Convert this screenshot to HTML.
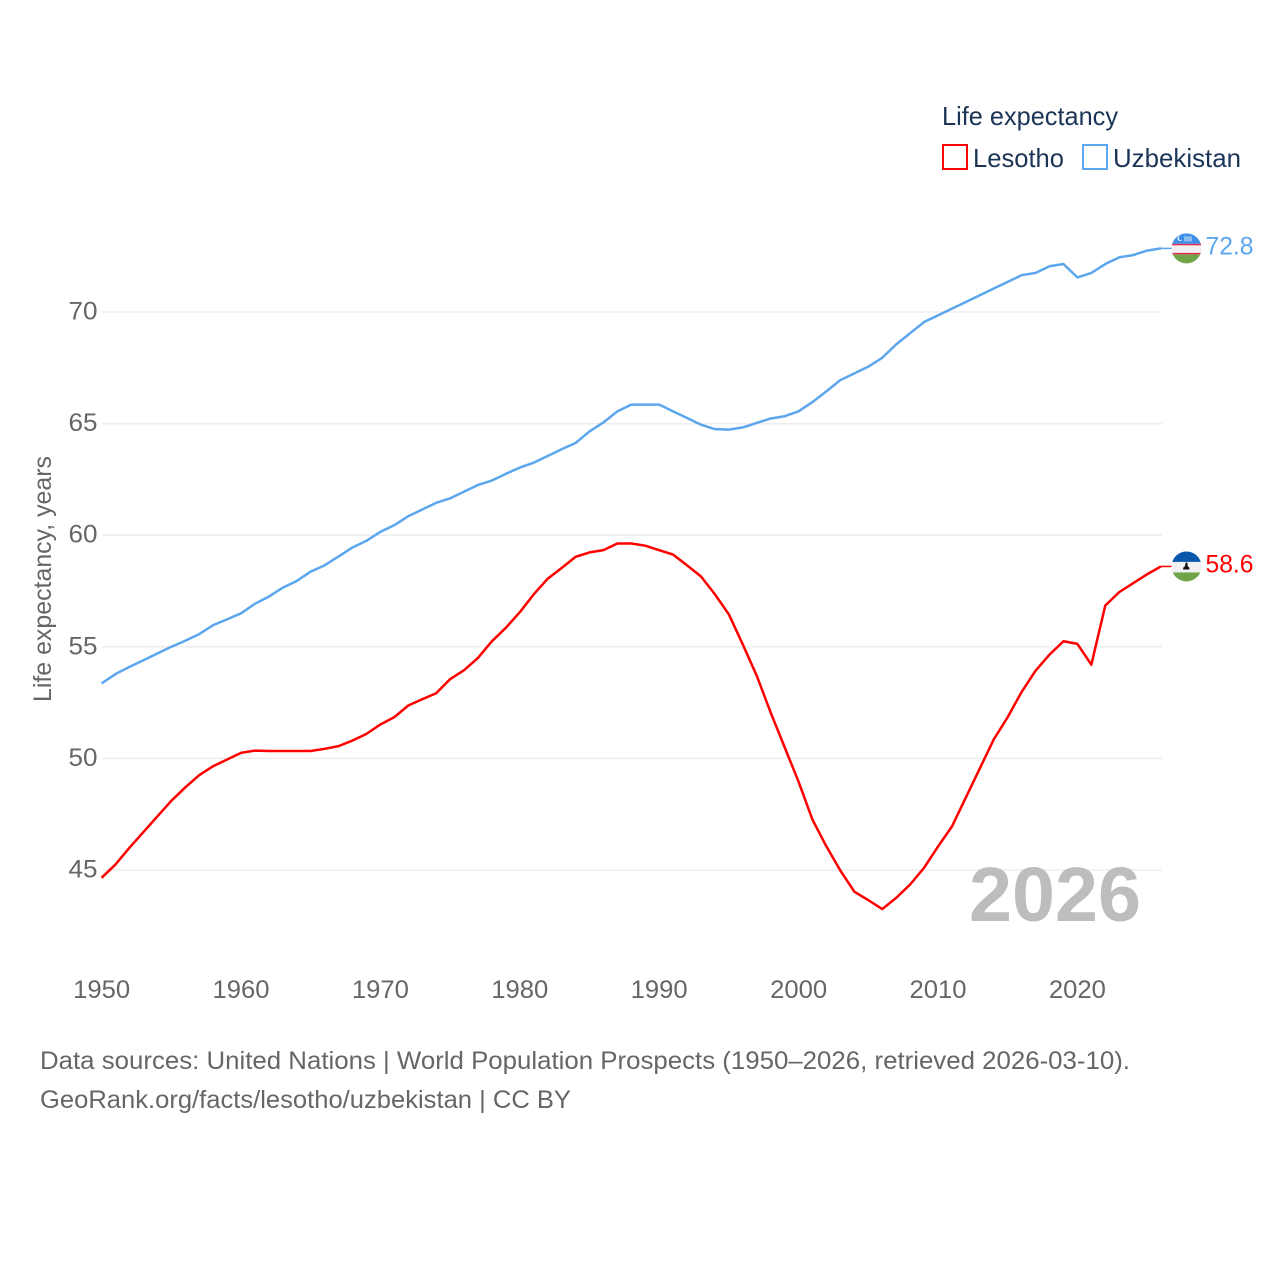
<!DOCTYPE html>
<html lang="en">
<head>
<meta charset="utf-8">
<title>Life expectancy: Lesotho and Uzbekistan</title>
<style>
html,body{margin:0;padding:0;background:#fff;width:1280px;height:1280px;overflow:hidden}
svg{display:block}
text{font-family:"Liberation Sans",sans-serif}
.tick{font-size:25px;fill:#666}
.legend{font-size:26px;fill:#1c3557}
.foot{font-size:25px;fill:#666}
</style>
</head>
<body>
<svg id="chart" xmlns="http://www.w3.org/2000/svg" width="1280" height="1280" viewBox="0 0 1280 1280">
  <defs>
    <clipPath id="flag-clip-uz"><circle id="clip-uz" cx="1186.5" cy="248" r="15"></circle></clipPath>
    <clipPath id="flag-clip-ls"><circle id="clip-ls" cx="1186.5" cy="566" r="15"></circle></clipPath>
  </defs>
  <g id="grid"></g>
  <g id="yticks"></g>
  <g id="xticks"></g>
  <text class="tick" transform="translate(51,702) rotate(-90)" textLength="246" lengthAdjust="spacingAndGlyphs">Life expectancy, years</text>
  <text x="969" y="921" font-size="77" font-weight="700" fill="#bdbdbd" textLength="172" lengthAdjust="spacingAndGlyphs">2026</text>
  <g id="series"></g>
  <g id="flags"></g>
  <g>
    <text class="legend" x="942" y="125" textLength="176" lengthAdjust="spacingAndGlyphs">Life expectancy</text>
    <rect x="943" y="145" width="24" height="24" fill="#fff" stroke="#ff0000" stroke-width="2"></rect>
    <text class="legend" x="973" y="167" textLength="91" lengthAdjust="spacingAndGlyphs">Lesotho</text>
    <rect x="1083" y="145" width="24" height="24" fill="#fff" stroke="#5ca6ee" stroke-width="2"></rect>
    <text class="legend" x="1113" y="167" textLength="128" lengthAdjust="spacingAndGlyphs">Uzbekistan</text>
  </g>
  <text class="foot" x="40" y="1069" textLength="1090" lengthAdjust="spacingAndGlyphs">Data sources: United Nations | World Population Prospects (1950–2026, retrieved 2026-03-10).</text>
  <text class="foot" x="40" y="1108" textLength="531" lengthAdjust="spacingAndGlyphs">GeoRank.org/facts/lesotho/uzbekistan | CC BY</text>
</svg>
<script>
const firstYear = 1950;
const yTickValues = [45, 50, 55, 60, 65, 70];
const xTickValues = [1950, 1960, 1970, 1980, 1990, 2000, 2010, 2020];
const lesothoValues = [
  44.65, 45.25, 46.0, 46.7, 47.4, 48.1, 48.7, 49.25, 49.65, 49.95,
  50.25, 50.35, 50.33, 50.33, 50.33, 50.33, 50.43, 50.55, 50.8, 51.1,
  51.52, 51.85, 52.37, 52.65, 52.92, 53.55, 53.95, 54.5, 55.25, 55.85,
  56.55, 57.35, 58.05, 58.53, 59.03, 59.23, 59.33, 59.63, 59.63, 59.53,
  59.33, 59.13, 58.65, 58.15, 57.35, 56.45, 55.1, 53.7, 52.05, 50.5,
  48.95, 47.25, 46.05, 44.97, 44.03, 43.65, 43.25, 43.75, 44.35, 45.1,
  46.05, 46.95, 48.25, 49.55, 50.85, 51.85, 52.98, 53.93, 54.65, 55.25,
  55.13, 54.2, 56.85, 57.45, 57.85, 58.25, 58.6
];
const uzbekistanValues = [
  53.36, 53.78, 54.1, 54.4, 54.7, 55.0, 55.27, 55.57, 55.97, 56.23,
  56.5, 56.93, 57.25, 57.65, 57.95, 58.37, 58.65, 59.05, 59.45, 59.75,
  60.15, 60.45, 60.85, 61.15, 61.45, 61.65, 61.95, 62.25, 62.45, 62.75,
  63.03, 63.25, 63.55, 63.85, 64.13, 64.65, 65.05, 65.55, 65.85, 65.85,
  65.85, 65.55, 65.25, 64.95, 64.75, 64.73, 64.83, 65.03, 65.23, 65.33,
  65.55, 65.97, 66.45, 66.95, 67.25, 67.55, 67.95, 68.55, 69.05, 69.55,
  69.85, 70.15, 70.45, 70.75, 71.05, 71.35, 71.65, 71.75, 72.05, 72.15,
  71.55, 71.75, 72.15, 72.45, 72.55, 72.75, 72.85
];
const lesothoLabel = "58.6";
const uzbekistanLabel = "72.8";

const SVGNS = "http://www.w3.org/2000/svg";
function xScale(year) { return 101.6 + (year - firstYear) * 13.94; }
function yScale(value) { return 870 - (value - 45) * 22.32; }
function make(tag, attrs, parent) {
  const el = document.createElementNS(SVGNS, tag);
  Object.keys(attrs).forEach(function (k) { el.setAttribute(k, attrs[k]); });
  parent.appendChild(el);
  return el;
}

const gridG = document.getElementById("grid");
const yG = document.getElementById("yticks");
yTickValues.forEach(function (v) {
  const line = make("line", { x1: 102, x2: 1162, y1: yScale(v), y2: yScale(v), stroke: "#eeeeee", "stroke-width": 1.5 }, gridG);
  
  
  const label = make("text", { x: 68.5, y: yScale(v) + 7.5, class: "tick", textLength: 29, lengthAdjust: "spacingAndGlyphs" }, yG);
  label.textContent = String(v);
  
  
});

const xG = document.getElementById("xticks");
xTickValues.forEach(function (year) {
  const label = make("text", { x: xScale(year) - 28.5, y: 998, class: "tick", textLength: 57, lengthAdjust: "spacingAndGlyphs" }, xG);
  label.textContent = String(year);
  
  
});

function linePath(values) {
  return values.map(function (v, i) {
    return (i ? "L" : "M") + xScale(firstYear + i).toFixed(2) + " " + yScale(v).toFixed(2);
  }).join(" ");
}

const seriesG = document.getElementById("series");
const lesothoLine = make("path", { d: linePath(lesothoValues), fill: "none", stroke: "#ff0000", "stroke-width": 2.5, "stroke-linejoin": "round" }, seriesG);


const uzbekistanLine = make("path", { d: linePath(uzbekistanValues), fill: "none", stroke: "#5ca6ee", "stroke-width": 2.5, "stroke-linejoin": "round" }, seriesG);



const flagsG = document.getElementById("flags");
const lastYear = firstYear + lesothoValues.length - 1;

function endY(values) { return yScale(values[values.length - 1]); }

const uy = endY(uzbekistanValues);
const ly = endY(lesothoValues);

const uzConn = make("line", { x1: xScale(lastYear), x2: 1172, y1: uy, y2: uy, stroke: "#5ca6ee", "stroke-width": 1.5 }, flagsG);


const lsConn = make("line", { x1: xScale(lastYear), x2: 1172, y1: ly, y2: ly, stroke: "#ff0000", "stroke-width": 1.5 }, flagsG);



document.getElementById("clip-uz").setAttribute("cy", uy);
document.getElementById("clip-ls").setAttribute("cy", ly);

const uzFlag = make("g", { "clip-path": "url(#flag-clip-uz)" }, flagsG);


make("rect", { x: 1171, y: uy - 15, width: 31, height: 10.5, fill: "#3f8fe8" }, uzFlag);
make("rect", { x: 1171, y: uy - 4.5, width: 31, height: 1.5, fill: "#e8264f" }, uzFlag);
make("rect", { x: 1171, y: uy - 3, width: 31, height: 7.5, fill: "#f1f1f1" }, uzFlag);
make("rect", { x: 1171, y: uy + 4.5, width: 31, height: 1.5, fill: "#e8264f" }, uzFlag);
make("rect", { x: 1171, y: uy + 6, width: 31, height: 10, fill: "#6fa548" }, uzFlag);
make("circle", { cx: 1180, cy: uy - 10, r: 2.6, fill: "#e8f2fc" }, uzFlag);
make("circle", { cx: 1181.2, cy: uy - 10.4, r: 2.4, fill: "#3f8fe8" }, uzFlag);
make("rect", { x: 1184, y: uy - 12, width: 8, height: 5, fill: "#8fbdf0" }, uzFlag);

const lsFlag = make("g", { "clip-path": "url(#flag-clip-ls)" }, flagsG);


make("rect", { x: 1171, y: ly - 15, width: 31, height: 10.5, fill: "#0b57ab" }, lsFlag);
make("rect", { x: 1171, y: ly - 4.5, width: 31, height: 10.5, fill: "#f1f1f1" }, lsFlag);
make("rect", { x: 1171, y: ly + 6, width: 31, height: 10, fill: "#6fa548" }, lsFlag);
make("path", { d: "M1185.7 " + (ly - 4) + " h1.6 l0.5 4 q2.4 1.2 1.4 3 h-5.8 q-1 -1.8 1.4 -3 z", fill: "#111" }, lsFlag);

const uzLabel = make("text", { x: 1205.5, y: uy + 6, "font-size": 25, fill: "#5ca6ee", textLength: 48, lengthAdjust: "spacingAndGlyphs" }, flagsG);
uzLabel.textContent = uzbekistanLabel;


const lsLabel = make("text", { x: 1205.5, y: ly + 6, "font-size": 25, fill: "#ff0000", textLength: 48, lengthAdjust: "spacingAndGlyphs" }, flagsG);
lsLabel.textContent = lesothoLabel;


</script>
</body>
</html>
